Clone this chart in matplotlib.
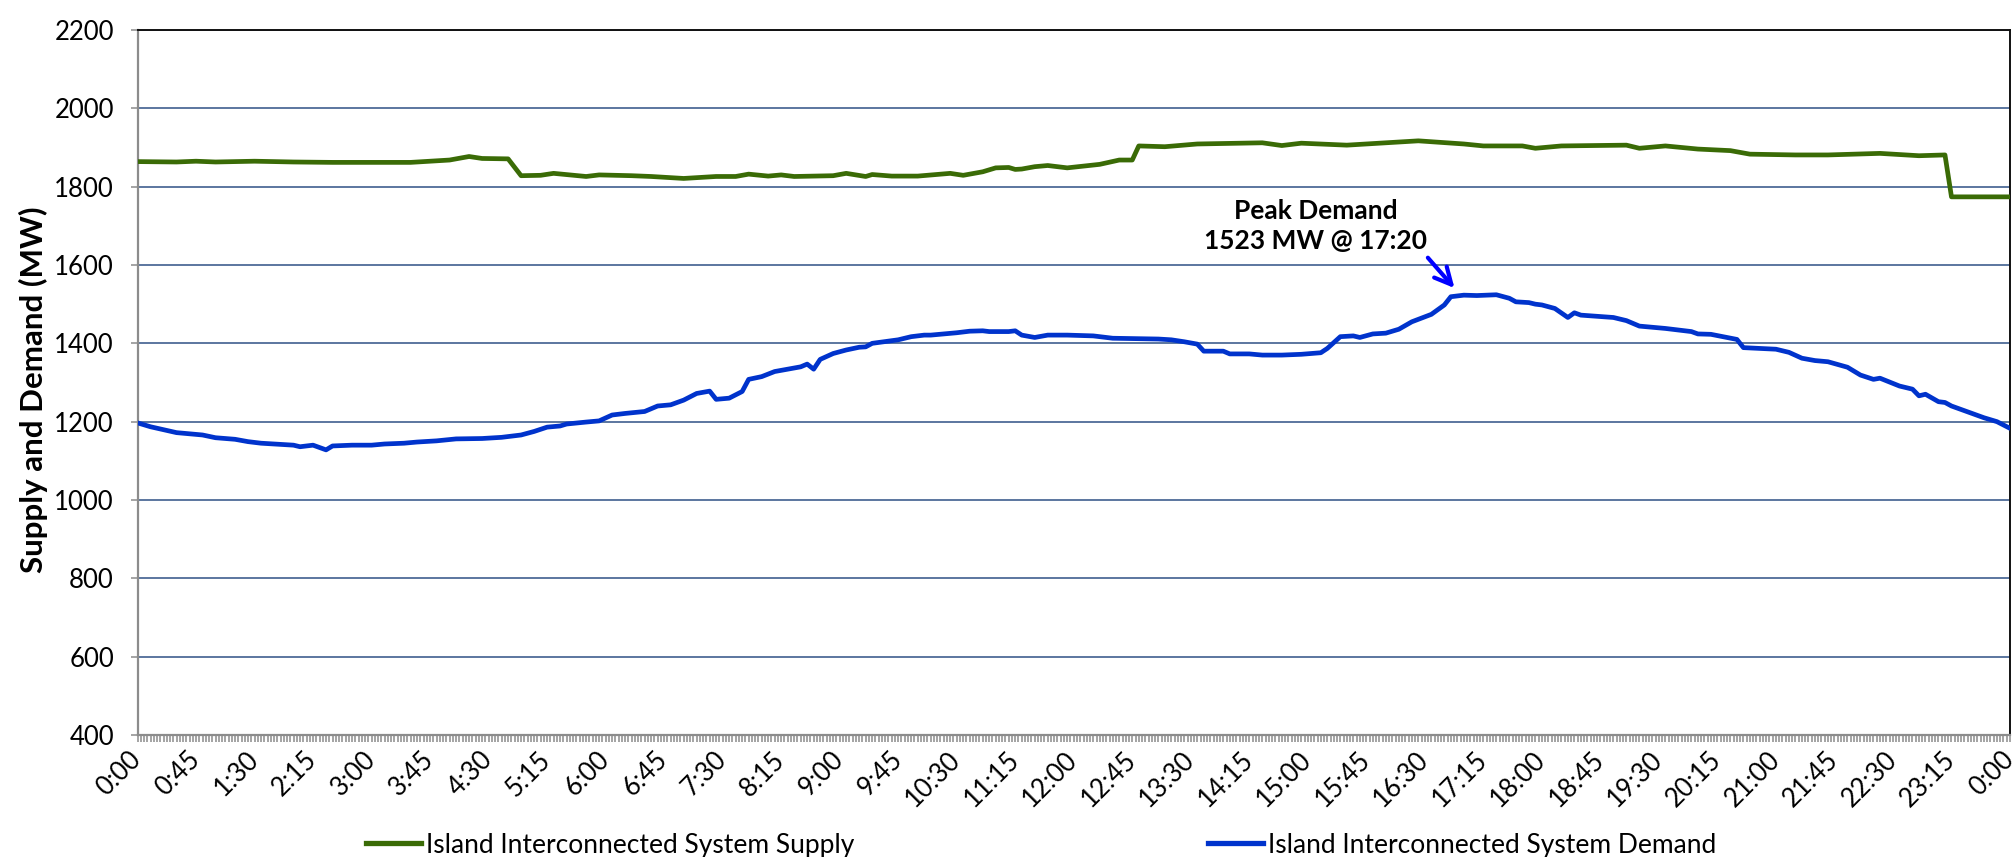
import matplotlib
matplotlib.use("Agg")
import matplotlib.pyplot as plt
import numpy as np
from matplotlib.lines import Line2D

plt.rcParams['font.family'] = ['Lato', 'DejaVu Sans']

# ---- data (minutes after midnight, MW) ----
supply_min = [0, 30, 45, 60, 75, 90, 120, 150, 180, 210, 215, 230, 240, 245, 255, 265, 285,
              295, 310, 320, 345, 355, 380, 395, 420, 430, 445, 460, 470, 485, 495, 505, 535,
              545, 560, 565, 580, 600, 625, 635, 650, 660, 670, 675, 680, 690, 700, 715, 740,
              755, 765, 770, 790, 815, 865, 880, 895, 930, 985, 1020, 1035, 1065, 1075, 1095,
              1145, 1155, 1175, 1200, 1225, 1240, 1275, 1300, 1340, 1370, 1390, 1395, 1440]
supply_mw = [1864, 1863, 1865, 1863, 1864, 1865, 1863, 1862, 1862, 1862, 1863, 1866, 1868, 1871,
             1877, 1872, 1871,
             1828, 1829, 1834, 1826, 1830, 1828, 1826, 1821, 1823, 1826, 1826, 1832, 1827, 1830,
             1826, 1828, 1834, 1826, 1831, 1827, 1827, 1834, 1829, 1838, 1848, 1849, 1844,
             1845, 1851, 1854, 1848, 1857, 1868, 1868, 1904, 1902, 1909, 1912, 1905, 1911, 1906,
             1917, 1909, 1904, 1904, 1898, 1904, 1906, 1898, 1904, 1896, 1892, 1883, 1881, 1881,
             1885, 1879, 1881, 1774, 1774]

demand_min = [0, 10, 30, 50, 60, 75, 85, 95, 105, 120, 125, 135, 145, 150, 165, 180, 190, 205,
              215, 230, 245, 265, 280, 295, 305, 315, 325, 330, 345, 355, 365, 375, 390, 400,
              410, 420, 430, 440, 445, 455, 465, 470, 480, 490, 500, 510, 515, 520, 525, 535,
              545, 555, 560, 565, 585, 595, 605, 610, 630, 640, 650, 655, 670, 675, 680, 690,
              700, 715, 735, 750, 785, 795, 805, 815, 820, 835, 840, 855, 865, 880, 895, 910,
              915, 925, 935, 940, 950, 960, 970, 980, 995, 1005, 1010, 1020, 1030, 1045, 1055,
              1060, 1070, 1075, 1080, 1090, 1100, 1105, 1110, 1135, 1145, 1155, 1175, 1195,
              1200, 1210, 1230, 1235, 1260, 1270, 1280, 1290, 1300, 1315, 1325, 1335, 1340,
              1355, 1365, 1370, 1375, 1385, 1390, 1395, 1405, 1420, 1430, 1440]
demand_mw = [1197, 1187, 1172, 1166, 1159, 1155, 1149, 1145, 1143, 1140, 1136, 1140, 1128, 1138,
             1140, 1140, 1143, 1145, 1148, 1151, 1156, 1157, 1160, 1166, 1175, 1186, 1189, 1194,
             1199, 1202, 1217, 1221, 1226, 1240, 1243, 1255, 1272, 1278, 1257, 1260, 1277, 1308,
             1315, 1328, 1334, 1340, 1347, 1334, 1359, 1374, 1383, 1390, 1391, 1400, 1409, 1417,
             1421, 1421, 1427, 1431, 1432, 1430, 1430, 1432, 1421, 1415, 1421, 1421, 1419, 1413,
             1411, 1409, 1404, 1398, 1380, 1380, 1373, 1373, 1370, 1370, 1372, 1376, 1387, 1417,
             1419, 1415, 1424, 1426, 1436, 1455, 1474, 1498, 1519, 1523, 1522, 1524, 1515, 1506,
             1504, 1500, 1498, 1489, 1466, 1478, 1472, 1466, 1458, 1444, 1438, 1430, 1424, 1423,
             1410, 1389, 1385, 1377, 1362, 1356, 1353, 1339, 1319, 1308, 1311, 1291, 1283, 1266,
             1270, 1251, 1249, 1240, 1228, 1210, 1200, 1183]

x_tick_labels = ["0:00", "0:45", "1:30", "2:15", "3:00", "3:45", "4:30", "5:15", "6:00", "6:45",
                 "7:30", "8:15", "9:00", "9:45", "10:30", "11:15", "12:00", "12:45", "13:30",
                 "14:15", "15:00", "15:45", "16:30", "17:15", "18:00", "18:45", "19:30", "20:15",
                 "21:00", "21:45", "22:30", "23:15", "0:00"]
y_ticks = [400, 600, 800, 1000, 1200, 1400, 1600, 1800, 2000, 2200]

supply_label = "Island Interconnected System Supply"
demand_label = "Island Interconnected System Demand"
peak_text = "Peak Demand\n1523 MW @ 17:20"
peak_time_h, peak_mw = 16.88, 1541

# ---- figure ----
W, H = 2016, 857
fig = plt.figure(figsize=(W / 100, H / 100), dpi=100)
L, R, T, B = 137.5, 2010, 30, 735
ax = fig.add_axes([L / W, 1 - B / H, (R - L) / W, (B - T) / H])

green = '#3A6B06'
blue = '#0033CC'
ax.plot(np.array(supply_min) / 60, supply_mw, color=green, lw=3.4, solid_joinstyle='round',
        solid_capstyle='round', zorder=3)
ax.plot(np.array(demand_min) / 60, demand_mw, color=blue, lw=3.4, solid_joinstyle='round',
        solid_capstyle='round', zorder=4)

ax.set_xlim(0, 24)
ax.set_ylim(400, 2200)
ax.set_yticks(y_ticks)
ax.yaxis.grid(True, color='#3F5F8F', lw=1.2)
ax.set_axisbelow(True)

ax.set_xticks(np.arange(len(x_tick_labels)) * 0.75)
ax.set_xticklabels(x_tick_labels, rotation=45, ha='right', va='center', rotation_mode='anchor',
                   fontsize=18.5)
ax.set_xticks(np.arange(0, 24.0001, 2.5 / 60), minor=True)
ax.tick_params(axis='x', which='both', length=5, width=1.1, color='#8C8C8C', pad=10)
ax.tick_params(axis='y', which='both', length=5, width=1.1, color='#8C8C8C', pad=12,
               labelsize=18.5)

for s in ['left', 'bottom']:
    ax.spines[s].set_color('#8C8C8C')
    ax.spines[s].set_linewidth(1.6)
for s in ['top', 'right']:
    ax.spines[s].set_color('#111111')
    ax.spines[s].set_linewidth(1.4)

fig.text(33 / W, 1 - 390 / H, "Supply and Demand (MW)", rotation=90, ha='center', va='center',
         fontsize=22.5, fontweight='bold')

ax.annotate(peak_text, xy=(peak_time_h, peak_mw), xytext=(15.1, 1700), ha='center', va='center',
            fontsize=19, fontweight='bold', linespacing=1.3,
            arrowprops=dict(arrowstyle='->', color='#0000FF', lw=3, mutation_scale=30,
                            shrinkA=2, shrinkB=0, relpos=(0.98, 0.02)), zorder=5)

h1 = Line2D([], [], color=green, lw=3.8)
h2 = Line2D([], [], color=blue, lw=3.8)
leg1 = fig.legend([h1], [supply_label], loc='center left', bbox_to_anchor=(366 / W, 1 - 845 / H),
                  frameon=False, fontsize=19, handlelength=2.1, handletextpad=0.19,
                  borderpad=0, borderaxespad=0)
leg2 = fig.legend([h2], [demand_label], loc='center left', bbox_to_anchor=(1208 / W, 1 - 845 / H),
                  frameon=False, fontsize=19, handlelength=2.1, handletextpad=0.19,
                  borderpad=0, borderaxespad=0)

fig.savefig("out.png", dpi=100)
